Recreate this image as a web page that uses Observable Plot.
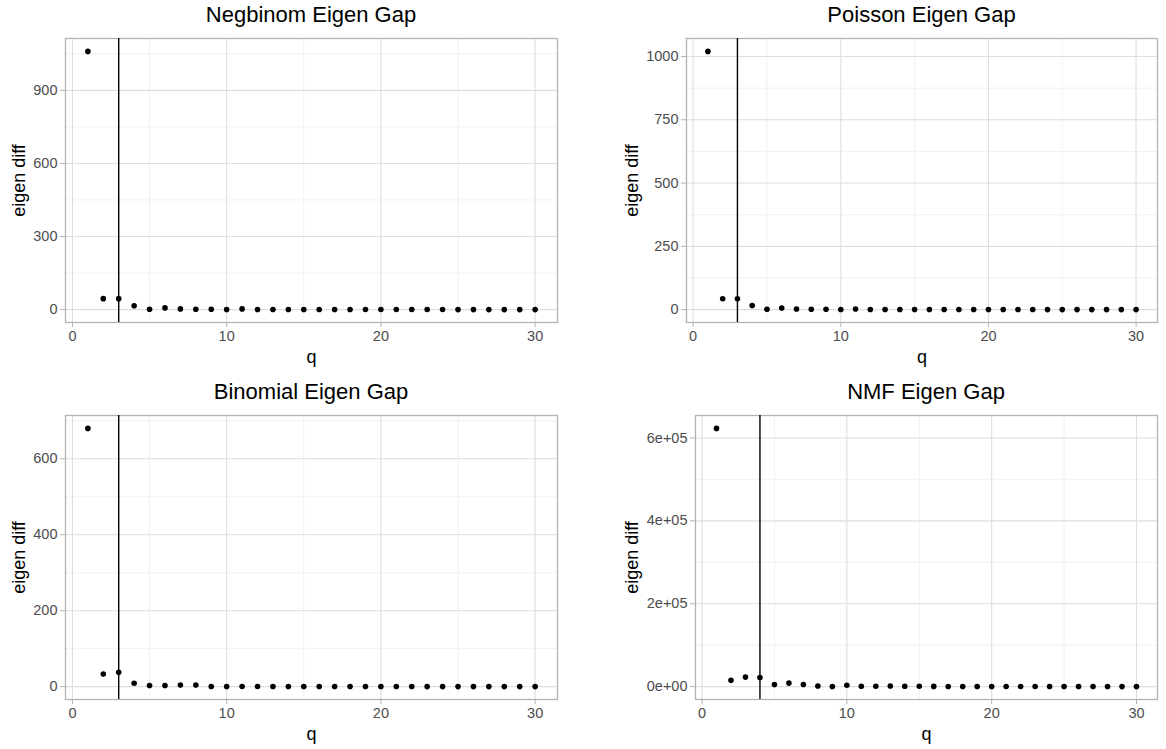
<!DOCTYPE html>
<html><head><meta charset="utf-8">
<script src="https://cdn.jsdelivr.net/npm/d3@7"></script>
<script src="https://cdn.jsdelivr.net/npm/@observablehq/plot@0.6"></script>
<style>
body{margin:0;background:#fff;font-family:"Liberation Sans",Arial,sans-serif;}
#root{position:relative;width:1166px;height:749px;overflow:hidden;background:#fff}
.cell{position:absolute}
.title{position:absolute;font-size:22px;line-height:26px;color:#000;white-space:nowrap;transform:translateX(-50%)}
</style></head><body><div id="root"></div>
<script>
// ---- data ----
const q = [1,2,3,4,5,6,7,8,9,10,11,12,13,14,15,16,17,18,19,20,21,22,23,24,25,26,27,28,29,30];
const negbinomGap = [1060,45,45,16,1.5,7,3,1.5,1.5,0.5,3,0.5,0.4,0.4,0.3,0.3,0.3,0.3,0.2,0.2,0.2,0.2,0.2,0.2,0.1,0.1,0.1,0.1,0.1,0.1];
const poissonGap  = [1020,43,43,16,1.3,6.5,2.6,1.3,1.3,0.5,2.6,0.4,0.4,0.3,0.3,0.3,0.3,0.2,0.2,0.2,0.2,0.2,0.2,0.1,0.1,0.1,0.1,0.1,0.1,0.1];
const binomialGap = [680,33,38,9,3,3,4,4,0.5,0.5,0.4,0.4,0.3,0.3,0.3,0.3,0.2,0.2,0.2,0.2,0.2,0.2,0.1,0.1,0.1,0.1,0.1,0.1,0.1,0.1];
const nmfGap      = [623000,15400,23000,22000,5000,8500,5000,1700,500,3400,1000,800,1500,1000,800,600,500,500,400,400,300,300,300,200,200,200,200,100,100,100];
const chosenQ = {negbinom:3, poisson:3, binomial:3, nmf:4};
const titles = {negbinom:"Negbinom Eigen Gap", poisson:"Poisson Eigen Gap", binomial:"Binomial Eigen Gap", nmf:"NMF Eigen Gap"};
const xTicks = [0,10,20,30];
const xMinor = [5,15,25];
const yTicks = {negbinom:[0,300,600,900], poisson:[0,250,500,750,1000], binomial:[0,200,400,600], nmf:[0,200000,400000,600000]};
const yMinor = {negbinom:[150,450,750,1050], poisson:[125,375,625,875], binomial:[100,300,500,700], nmf:[100000,300000,500000]};
const yLabels = {nmf:["0e+00","2e+05","4e+05","6e+05"]};
const xLabel = "q", yLabel = "eigen diff";

// ---- layout (page pixels) ----
const layout = {
  negbinom: {cx:0,   cy:30,  cw:583, ch:344, px0:65,  px1:557,  py0:38,  py1:322, ty:2,   lx:20},
  poisson:  {cx:583, cy:30,  cw:583, ch:344, px0:686, px1:1157, py0:38,  py1:322, ty:2,   lx:633},
  binomial: {cx:0,   cy:404, cw:583, ch:345, px0:65,  px1:557,  py0:415, py1:699, ty:379, lx:20},
  nmf:      {cx:583, cy:404, cw:583, ch:345, px0:695, px1:1157, py0:415, py1:699, ty:379, lx:633}
};
const series = {negbinom:negbinomGap, poisson:poissonGap, binomial:binomialGap, nmf:nmfGap};

const root = document.getElementById("root");
for (const key of ["negbinom","poisson","binomial","nmf"]) {
  const L = layout[key];
  const vals = series[key];
  const data = q.map((d,i)=>({q:d, v:vals[i]}));
  const xr = d3.extent(q), xp = (xr[1]-xr[0])*0.05;
  const yr = d3.extent(vals), yp = (yr[1]-yr[0])*0.05;
  const yDom = [yr[0]-yp, yr[1]+yp];
  const minors = yMinor[key].filter(v => v >= yDom[0] && v <= yDom[1]);
  const labs = yLabels[key];
  const fmt = labs ? (d => labs[yTicks[key].indexOf(d)]) : (d => String(d));
  const mL = L.px0 - L.cx, mR = L.cx + L.cw - L.px1, mT = L.py0 - L.cy, mB = L.cy + L.ch - L.py1;
  const plot = Plot.plot({
    width: L.cw, height: L.ch,
    marginLeft: mL, marginRight: mR, marginTop: mT, marginBottom: mB,
    x: {domain: [xr[0]-xp, xr[1]+xp]},
    y: {domain: yDom},
    style: {fontFamily: "'Liberation Sans', Arial, sans-serif", fontSize: "14.5px", color: "#4D4D4D", background: "#fff"},
    marks: [
      Plot.ruleX(xMinor, {stroke: "#EBEBEB", strokeWidth: 0.7}),
      Plot.ruleY(minors, {stroke: "#EBEBEB", strokeWidth: 0.7}),
      Plot.ruleX(xTicks, {stroke: "#DEDEDE", strokeWidth: 1.1}),
      Plot.ruleY(yTicks[key], {stroke: "#DEDEDE", strokeWidth: 1.1}),
      Plot.frame({stroke: "#B3B3B3", strokeWidth: 1.3}),
      Plot.axisX({ticks: xTicks, tickSize: 5, tickPadding: 3, stroke: "#B3B3B3", fill: "#4D4D4D",
        label: xLabel, labelAnchor: "center", labelArrow: "none", labelOffset: 40}),
      Plot.axisY({ticks: yTicks[key], tickFormat: fmt, tickSize: 5, tickPadding: 3, stroke: "#B3B3B3", fill: "#4D4D4D",
        label: yLabel, labelAnchor: "center", labelArrow: "none", labelOffset: L.px0 - L.lx + 8}),
      Plot.ruleX([chosenQ[key]], {stroke: "#000", strokeWidth: 1.4}),
      Plot.dot(data, {x: "q", y: "v", r: 2.8, fill: "#000", stroke: "none"})
    ]
  });
  for (const t of plot.querySelectorAll('[aria-label="x-axis label"] text, [aria-label="y-axis label"] text')) {
    t.setAttribute("font-size", "18px");
    t.setAttribute("fill", "#000");
    t.style.fontSize = "18px";
    t.style.fill = "#000";
  }
  const cell = document.createElement("div");
  cell.className = "cell";
  cell.style.left = L.cx + "px"; cell.style.top = L.cy + "px";
  cell.appendChild(plot);
  root.appendChild(cell);
  const title = document.createElement("div");
  title.className = "title";
  title.textContent = titles[key];
  title.style.left = ((L.px0 + L.px1)/2) + "px";
  title.style.top = L.ty + "px";
  root.appendChild(title);
}
</script></body></html>
